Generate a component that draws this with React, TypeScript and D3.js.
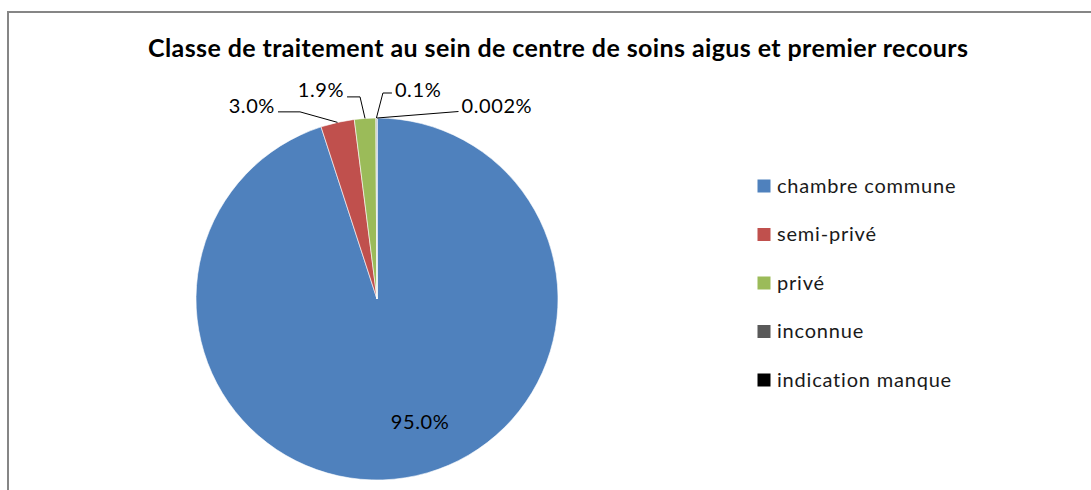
import React from 'react';
import * as d3 from 'd3';

const title = 'Classe de traitement au sein de centre de soins aigus et premier recours';
const categories = ['chambre commune', 'semi-privé', 'privé', 'inconnue', 'indication manque'];
const values = [95.0, 3.0, 1.9, 0.1, 0.002];
const valueLabels = ['95.0%', '3.0%', '1.9%', '0.1%', '0.002%'];
const colors = ['#4F81BD', '#C0504D', '#9BBB59', '#595959', '#000000'];

const width = 1091;
const height = 490;
const cx = 377;
const cy = 299;
const radius = 181;
const font = 'Lato, "Open Sans", sans-serif';

// leader layout for the outside labels: end point offset from the slice edge, elbow run, text side, baseline shift
const leaders = [
  null,
  { dx: -59.5, dy: -10.5, run: 22, anchor: 'end', by: 0.8 },
  { dx: -18, dy: -21.5, run: 13, anchor: 'end', by: 0.5 },
  { dx: 15.5, dy: -25, run: -9, anchor: 'start', by: 4 },
  { dx: 81.5, dy: -6.5, run: 0, anchor: 'start', by: 1 },
];

const App = () => {
  const pie = d3.pie<number>().sort(null).value(d => d);
  const arcs = pie(values);
  const arc = d3.arc<d3.PieArcDatum<number>>().innerRadius(0).outerRadius(radius);
  const edge = d3.arc<d3.PieArcDatum<number>>().innerRadius(radius).outerRadius(radius);

  const legendY = d3.scalePoint<string>().domain(categories).range([186, 380]);

  return (
    <div style={{ position: 'absolute', left: 0, top: 0 }}>
      <svg width={width} height={height} style={{ display: 'block', background: '#fff' }}>
        <rect x={8} y={12} width={width + 20} height={height + 20} fill="#fff" stroke="#868686" strokeWidth={2} />
        <text x={148} y={57} textLength={820} lengthAdjust="spacing" fontFamily={font} fontWeight="bold" fontSize={25} fill="#000">
          {title}
        </text>
        <g transform={`translate(${cx},${cy})`}>
          {arcs.map((a, i) => (
            <path key={i} d={arc(a) || ''} fill={colors[i]} stroke="#fff" strokeWidth={0.6} />
          ))}
          {arcs.map((a, i) => {
            const lay = leaders[i];
            if (!lay) {
              const mid = (a.startAngle + a.endAngle) / 2 - 0.18;
              const rr = radius * 0.72;
              return (
                <text key={'l' + i} x={Math.sin(mid) * rr} y={-Math.cos(mid) * rr} dy="0.35em" textAnchor="middle"
                  fontFamily={font} fontSize={20} letterSpacing={0.6} fill="#000">{valueLabels[i]}</text>
              );
            }
            const [px, py] = edge.centroid(a);
            const ex = px + lay.dx;
            const ey = py + lay.dy;
            const tx = lay.anchor === 'end' ? ex - 3 : ex + 3;
            return (
              <g key={'l' + i}>
                <polyline points={`${ex},${ey} ${ex + lay.run},${ey} ${px},${py}`} fill="none" stroke="#000" strokeWidth={1} />
                <text x={tx} y={ey + lay.by} textAnchor={lay.anchor}
                  fontFamily={font} fontSize={20} letterSpacing={0.6} fill="#000">{valueLabels[i]}</text>
              </g>
            );
          })}
        </g>
        <g>
          {categories.map((c, i) => (
            <g key={c} transform={`translate(0,${legendY(c)})`}>
              <rect x={757.5} y={-6.5} width={13} height={13} fill={colors[i]} />
              <text x={777} y={6.7} fontFamily={font} fontSize={20} letterSpacing={0.8} fill="#1a1a1a">{c}</text>
            </g>
          ))}
        </g>
      </svg>
    </div>
  );
};

export default App;
